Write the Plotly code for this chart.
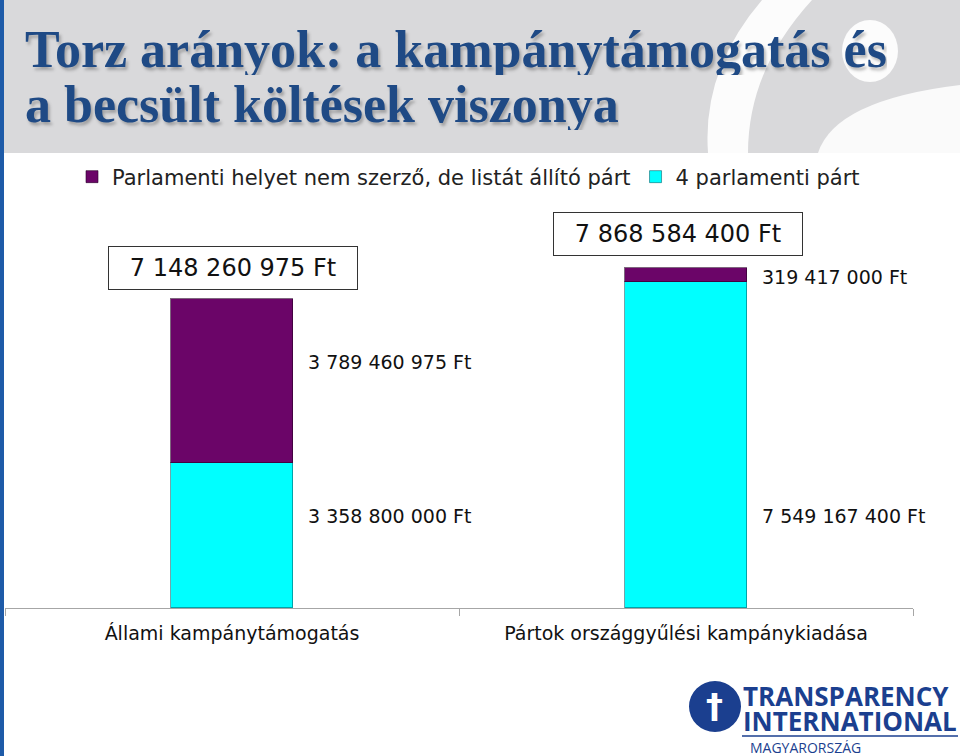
import plotly.graph_objects as go

# ---- data ----
categories = ["Állami kampánytámogatás", "Pártok országgyűlési kampánykiadása"]
series_names = ["4 parlamenti párt", "Parlamenti helyet nem szerző, de listát állító párt"]
parl4 = [3358800000, 7549167400]
nonparl = [3789460975, 319417000]
totals = [a + b for a, b in zip(parl4, nonparl)]

def fmt(v):
    return "{:,}".format(v).replace(",", " ") + " Ft"

W, H = 960, 756
L, R, T, B = 5, 47, 200, 148
PW, PH = W - L - R, H - T - B
YMAX = 9.44e9

def px(x):
    return (x - L) / PW

def py(y):
    return (H - B - y) / PH

FONT = "DejaVu Sans"
CYAN = "#00FFFF"
PURPLE = "#6B0568"

fig = go.Figure()
fig.add_trace(go.Bar(x=categories, y=parl4, name=series_names[0],
                     marker=dict(color=CYAN, line=dict(color="rgba(0,90,100,0.55)", width=1)),
                     width=0.267))
fig.add_trace(go.Bar(x=categories, y=nonparl, name=series_names[1],
                     marker=dict(color=PURPLE, line=dict(color="rgba(40,0,40,0.6)", width=1)),
                     width=0.267))

annotations = []
# total boxes
for i, (cat, tot) in enumerate(zip(categories, totals)):
    annotations.append(dict(x=cat, y=tot, xref="x", yref="y", text=fmt(tot),
                            showarrow=False, yanchor="bottom", yshift=9 if i == 0 else 12,
                            xshift=1 if i == 0 else -8,
                            font=dict(family=FONT, size=24, color="#111"),
                            bordercolor="#333", borderwidth=1, width=246, height=40,
                            bgcolor="white"))
# segment labels
for i, cat in enumerate(categories):
    mid_p = parl4[i] / 2
    mid_n = parl4[i] + nonparl[i] / 2
    annotations.append(dict(x=cat, y=mid_n, xref="x", yref="y", text=fmt(nonparl[i]),
                            showarrow=False, xanchor="left", xshift=74,
                            yshift=19 if i == 0 else -2,
                            font=dict(family=FONT, size=19, color="#111")))
    annotations.append(dict(x=cat, y=mid_p, xref="x", yref="y", text=fmt(parl4[i]),
                            showarrow=False, xanchor="left", xshift=74,
                            yshift=19 if i == 0 else -71,
                            font=dict(family=FONT, size=19, color="#111")))

# title (two lines, with text shadow)
title_lines = ["Torz arányok: a kampánytámogatás és", "a becsült költések viszonya"]
for line, ycen in zip(title_lines, [49, 104]):
    annotations.append(dict(x=px(23), y=py(ycen), xref="paper", yref="paper",
                            xanchor="left", yanchor="middle", align="left", showarrow=False,
                            text=line, height=52,
                            font=dict(family="Liberation Serif", size=52, color="#1F4A85",
                                      weight="bold",
                                      shadow="2px 3px 3px rgba(60,60,60,0.35)")))

# logo texts
LOGO = "#1B3F8F"
annotations += [
    dict(x=px(741), y=py(696), xref="paper", yref="paper", xanchor="left", yanchor="middle",
         showarrow=False, text="<b>TRANSPARENCY</b>", height=20,
         font=dict(family="Open Sans", size=26, color=LOGO)),
    dict(x=px(741), y=py(721), xref="paper", yref="paper", xanchor="left", yanchor="middle",
         showarrow=False, text="<b>INTERNATIONAL</b>", height=20,
         font=dict(family="Open Sans", size=26, color=LOGO)),
    dict(x=px(748), y=py(747), xref="paper", yref="paper", xanchor="left", yanchor="middle",
         showarrow=False, text="MAGYARORSZÁG", height=14,
         font=dict(family="Open Sans", size=14, color=LOGO)),
    dict(x=px(714), y=py(706), xref="paper", yref="paper", xanchor="center", yanchor="middle",
         showarrow=False, text="<b>†</b>",
         font=dict(family="DejaVu Sans", size=34, color="white")),
]

shapes = [
    # header band
    dict(type="rect", xref="paper", yref="paper", x0=px(0), x1=px(960), y0=py(0), y1=py(153),
         fillcolor="#D9D9DB", line=dict(width=0), layer="below"),
    # decorative white shapes in header
    dict(type="path", xref="paper", yref="paper", layer="below", line=dict(width=0),
         fillcolor="rgba(255,255,255,0.9)",
         path=f"M {px(762)},{py(0)} L {px(812)},{py(0)} Q {px(748)},{py(70)} {px(748)},{py(153)} "
              f"L {px(708)},{py(153)} Q {px(702)},{py(70)} {px(762)},{py(0)} Z"),
    dict(type="circle", xref="paper", yref="paper", layer="below", line=dict(width=0),
         fillcolor="rgba(255,255,255,0.9)",
         x0=px(842), x1=px(898), y0=py(20), y1=py(82)),
    dict(type="path", xref="paper", yref="paper", layer="below", line=dict(width=0),
         fillcolor="rgba(255,255,255,0.85)",
         path=f"M {px(818)},{py(153)} Q {px(835)},{py(100)} {px(960)},{py(85)} "
              f"L {px(960)},{py(153)} Z"),
    # left blue edge
    dict(type="rect", xref="paper", yref="paper", x0=px(0), x1=px(4), y0=py(0), y1=py(756),
         fillcolor="#1E5BA8", line=dict(width=0)),
    # logo circle and rule
    dict(type="circle", xref="paper", yref="paper", x0=px(689), x1=px(741), y0=py(681), y1=py(732),
         fillcolor=LOGO, line=dict(width=0)),
    dict(type="line", xref="paper", yref="paper", x0=px(742), x1=px(958), y0=py(736), y1=py(736),
         line=dict(color=LOGO, width=1.5)),
]

fig.update_layout(
    width=W, height=H,
    margin=dict(l=L, r=R, t=T, b=B, autoexpand=False),
    paper_bgcolor="white", plot_bgcolor="white",
    barmode="stack", bargap=0.0,
    showlegend=True,
    legend=dict(orientation="h", x=px(72), y=py(177), xanchor="left", yanchor="middle",
                traceorder="reversed", font=dict(family=FONT, size=21, color="#222"),
                itemwidth=30, bgcolor="rgba(0,0,0,0)"),
    xaxis=dict(type="category", range=[-0.5, 1.5], showline=True, linecolor="#A6A6A6",
               linewidth=1, ticks="outside", tickson="boundaries", ticklen=7,
               tickcolor="#A6A6A6", tickfont=dict(family=FONT, size=19, color="#111"),
               showgrid=False, ticklabelstandoff=8),
    yaxis=dict(range=[0, YMAX], visible=False, showgrid=False),
    annotations=annotations,
    shapes=shapes,
)

fig.write_html("out.html")
